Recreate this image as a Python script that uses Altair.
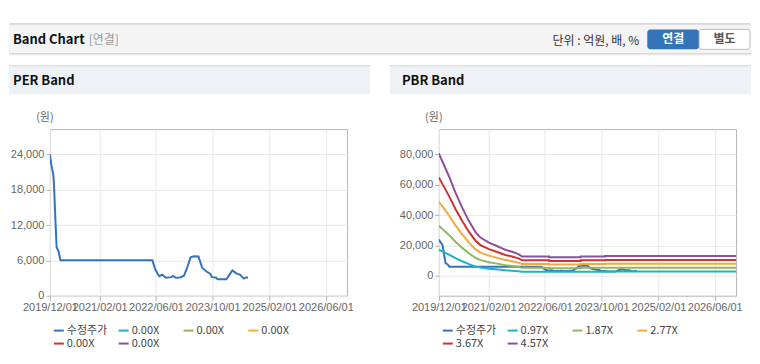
import altair as alt
import pandas as pd

# ---------------- data ----------------
price_dates = ["2019-12-01", "2019-12-13", "2019-12-30", "2020-01-05", "2020-01-11", "2020-01-19",
               "2020-01-28", "2020-02-13", "2020-03-01", "2022-05-01", "2022-05-25", "2022-06-13",
               "2022-06-28", "2022-07-25", "2022-08-25", "2022-10-10", "2022-10-22", "2022-11-19",
               "2022-12-25", "2023-01-28", "2023-02-28", "2023-03-25", "2023-04-25", "2023-06-01",
               "2023-07-04", "2023-08-10", "2023-09-10", "2023-09-25", "2023-10-28", "2023-11-13",
               "2024-01-28", "2024-02-19", "2024-03-19", "2024-04-22", "2024-05-25", "2024-06-25",
               "2024-07-16", "2024-08-01"]
price_values = [24000, 22300, 20600, 18900, 16100, 12200, 8200, 7600, 6000, 6000, 4500, 3800,
                3300, 3550, 3050, 3150, 3350, 3050, 3100, 3400, 5000, 6500, 6700, 6650,
                4700, 4100, 3750, 3150, 3100, 2800, 2800, 3450, 4300, 3800, 3550, 2900,
                3100, 3100]

# book value per share behind the PBR band lines
bps_dates = ["2019-12-01", "2019-12-30", "2020-02-25", "2020-04-22", "2020-06-19", "2020-08-15",
             "2020-10-10", "2020-11-23", "2021-02-04", "2021-04-28", "2021-06-25", "2021-08-22",
             "2021-10-16", "2021-11-16", "2022-07-07", "2022-07-07", "2023-04-04", "2023-04-04",
             "2023-11-01", "2023-11-01", "2026-12-01"]
bps_values = [17660, 16560, 14400, 11990, 9830, 7920, 6340, 5510, 4790, 4180, 3740, 3460,
              3120, 2780, 2780, 2660, 2660, 2780, 2780, 2850, 2850]

pbr_multiples = [0.97, 1.87, 2.77, 3.67, 4.57]
pbr_labels = ["0.97X", "1.87X", "2.77X", "3.67X", "4.57X"]
per_labels = ["0.00X", "0.00X", "0.00X", "0.00X", "0.00X"]
price_label = "수정주가"

series_colors = ["#3473c0", "#1eb3c4", "#93b75a", "#f2aa3c", "#cd3430", "#8f4f9c"]

x_ticks = ["2019-12-01", "2021-02-01", "2022-06-01", "2023-10-01", "2025-02-01", "2026-06-01"]
x_domain = ["2019-12-01", "2026-12-01"]
per_y_ticks = [0, 6000, 12000, 18000, 24000]
per_y_domain = [0, 28285]
pbr_y_ticks = [0, 20000, 40000, 60000, 80000]
pbr_y_domain = [-13160, 96710]

# ---------------- styling ----------------
W, H = 298, 167
KFONT = "Noto Sans CJK KR"
TFONT = "Liberation Sans Narrow, Liberation Sans, Arial"


def dt(s):
    return alt.DateTime(year=int(s[:4]), month=int(s[5:7]), date=int(s[8:10]), utc=True)


price_df = pd.DataFrame({"date": price_dates, "value": price_values, "series": price_label})
band_rows = []
for lab, m in zip(pbr_labels, pbr_multiples):
    for d, b in zip(bps_dates, bps_values):
        band_rows.append({"date": d, "value": round(b * m, 1), "series": lab})
band_df = pd.DataFrame(band_rows)

one = alt.Data(values=[{"a": 1}])


def rect(x, x2, y, y2, fill, stroke=None, radius=0):
    kw = dict(fill=fill, cornerRadius=radius)
    if stroke:
        kw.update(stroke=stroke, strokeWidth=1)
    else:
        kw.update(strokeWidth=0)
    return alt.Chart(one).mark_rect(**kw).encode(
        x=alt.value(x), x2=alt.value(x2), y=alt.value(y), y2=alt.value(y2))


def hline(x, x2, y, color, width=1):
    return alt.Chart(one).mark_rule(color=color, strokeWidth=width).encode(
        x=alt.value(x), x2=alt.value(x2), y=alt.value(y))


def label(x, y, txt, size=12, bold=False, color="#222", align="left"):
    return alt.Chart(one).mark_text(
        text=txt, align=align, baseline="middle", font=KFONT, fontSize=size,
        fontWeight="bold" if bold else "normal", color=color).encode(
        x=alt.value(x), y=alt.value(y))


def legend_items(names):
    items = []
    for i, (name, col) in enumerate(zip(names, series_colors)):
        r, c = divmod(i, 4)
        sx = 4 + 65 * c
        sy = 202 + 13 * r
        items.append(hline(sx, sx + 10, sy, col, width=2))
        items.append(label(sx + 13, sy, name, size=11, color="#444"))
    return items


x_enc = alt.X("date:T", scale=alt.Scale(type="utc", domain=[dt(s) for s in x_domain]),
              axis=alt.Axis(values=[dt(s) for s in x_ticks],
                            labelExpr="utcFormat(datum.value, '%Y/%m/%d')",
                            title=None, labelFlush=False, labelOverlap=False,
                            tickSize=5, labelPadding=1))


def y_enc(domain, ticks):
    return alt.Y("value:Q", scale=alt.Scale(domain=domain, nice=False, zero=False),
                 axis=alt.Axis(values=ticks, labelExpr="format(datum.value, ',')",
                               title=None, tickSize=4, labelPadding=2,
                               labelOverlap=False, labelFlush=False))


def color_enc(domain):
    return alt.Color("series:N", scale=alt.Scale(domain=domain, range=series_colors),
                     legend=None)


# ---------------- PER panel ----------------
per_deco = alt.layer(
    rect(-41, 703, -120, -106, "#ffffff"),
    rect(-41, 703, -106, -76, "#f4f4f4"),
    hline(-41, 703, -105.5, "#c2c2c2"),
    hline(-41, 703, -75.5, "#c8c8c8"),
    hline(-41, 703, -74.5, "#e6e6e6"),
    label(-37, -89, "Band Chart", size=13, bold=True, color="#111"),
    label(39, -89, "[연결]", size=12, color="#999"),
    label(504, -88, "단위 : 억원, 배, %", size=12, color="#333"),
    rect(599, 651, -100, -80, "#3474b8", radius=3),
    rect(651, 702, -100, -80, "#ffffff", stroke="#bdbdbd", radius=3),
    label(625, -90, "연결", size=12, bold=True, color="#ffffff", align="center"),
    label(676.5, -90, "별도", size=12, bold=True, color="#555", align="center"),
    rect(-41, 321, -64, -35, "#eef2f7"),
    hline(-41, 321, -63.5, "#d6d6d6"),
    label(-37, -48, "PER Band", size=13, bold=True, color="#111"),
    label(-5, -11, "(원)", size=11, color="#666", align="center"),
    *legend_items([price_label] + per_labels),
)

per_price = alt.Chart(price_df).mark_line(strokeWidth=2, clip=True).encode(
    x=x_enc, y=y_enc(per_y_domain, per_y_ticks), color=color_enc([price_label]))

per_panel = alt.layer(per_deco, per_price).properties(width=W, height=H)

# ---------------- PBR panel ----------------
pbr_domain = [price_label] + pbr_labels

pbr_deco = alt.layer(
    rect(-49, 313, -64, -35, "#eef2f7"),
    hline(-49, 313, -63.5, "#d6d6d6"),
    label(-37, -48, "PBR Band", size=13, bold=True, color="#111"),
    label(-5, -11, "(원)", size=11, color="#666", align="center"),
    *legend_items(pbr_domain),
)

pbr_price = alt.Chart(price_df).mark_line(strokeWidth=2, clip=True).encode(
    x=x_enc, y=y_enc(pbr_y_domain, pbr_y_ticks), color=color_enc(pbr_domain))
pbr_bands = alt.Chart(band_df).mark_line(strokeWidth=2, clip=True).encode(
    x=x_enc, y=y_enc(pbr_y_domain, pbr_y_ticks), color=color_enc(pbr_domain))

pbr_panel = alt.layer(pbr_deco, pbr_price, pbr_bands).properties(width=W, height=H)

chart = alt.hconcat(per_panel, pbr_panel, spacing=92, bounds="flush").resolve_scale(
    x="independent", y="independent", color="independent"
).properties(
    padding={"left": 0, "top": 0, "right": 0, "bottom": 0}
).configure_view(stroke="#b4b4b4", strokeWidth=1).configure_axis(
    domain=False, gridColor="#e9e9e9", tickColor="#b4b4b4", labelColor="#666",
    labelFont=TFONT, labelFontSize=11
)

chart.save("out.html", embed_options={"renderer": "svg", "actions": False})
